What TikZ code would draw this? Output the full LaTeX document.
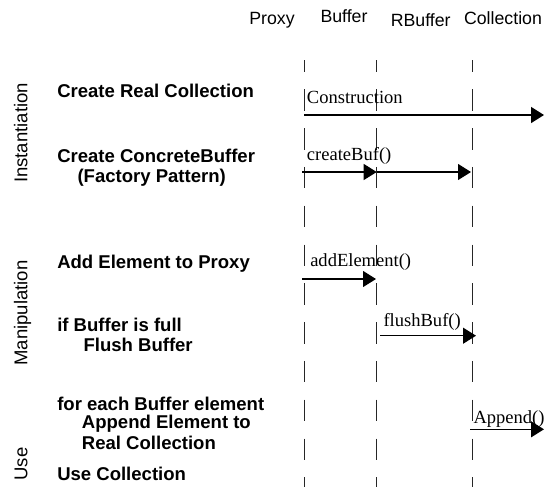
\documentclass[tikz,border=0pt]{standalone}
\usepackage{fontspec}
\setmainfont{Liberation Serif}
\setsansfont{Liberation Sans}
\usetikzlibrary{arrows.meta}
\tikzset{
  px/.style={x=0.75pt,y=-0.75pt},
  header/.style={font=\sffamily\fontsize{13.3}{16}\selectfont, anchor=base, inner sep=0pt},
  phase/.style={font=\sffamily\fontsize{13.9}{16}\selectfont, anchor=base, rotate=90, inner sep=0pt},
  steptext/.style={font=\sffamily\bfseries\fontsize{13.9}{16}\selectfont, anchor=base west, inner sep=0pt},
  msgtext/.style={font=\rmfamily\fontsize{13.9}{16}\selectfont, anchor=base west, inner sep=0pt},
  lifeline/.style={line width=0.8pt, draw=black!85, dash pattern=on 16.1pt off 13pt, dash phase=7.1pt},
  msg/.style={line width=0.9pt, -{Triangle[length=9.75pt,width=12pt]}},
  bigmsg/.style={line width=1.2pt, -{Triangle[length=9.75pt,width=12pt]}}
}
\begin{document}
\begin{tikzpicture}[px]
\useasboundingbox (0,0) rectangle (544,487);

% object headers
\node[header] (hProxy) at (272,24) {Proxy};
\node[header] (hBuffer) at (344,22.7) {Buffer};
\node[header] (hRBuffer) at (420.7,26.7) {RBuffer};
\node[header] (hColl) at (503,24) {Collection};

% lifelines
\coordinate (pTop) at (304.7,60);  \coordinate (pBot) at (304.7,487);
\coordinate (bTop) at (376.7,60);  \coordinate (bBot) at (376.7,487);
\coordinate (cTop) at (472.5,60);  \coordinate (cBot) at (472.5,487);
\draw[lifeline] (pTop) -- (pBot);
\draw[lifeline] (bTop) -- (bBot);
\draw[lifeline] (cTop) -- (cBot);

% phases
\node[phase] (phInst) at (27.5,133) {Instantiation};
\node[phase] (phMan) at (27.5,313) {Manipulation};
\node[phase] (phUse) at (27.5,464) {Use};

% steps
\node[steptext] (s1) at (57,97) {Create Real Collection};
\node[steptext] (s2a) at (57,162.3) {Create ConcreteBuffer};
\node[steptext] (s2b) at (77.3,182.7) {(Factory Pattern)};
\node[steptext] (s3) at (57,268) {Add Element to Proxy};
\node[steptext] (s4a) at (57,331.7) {if Buffer is full};
\node[steptext] (s4b) at (83.3,351.7) {Flush Buffer};
\node[steptext] (s5a) at (57,410) {for each Buffer element};
\node[steptext] (s5b) at (81.7,428.7) {Append Element to};
\node[steptext] (s5c) at (81.7,449.5) {Real Collection};
\node[steptext] (s6) at (57,480) {Use Collection};

% messages
\node[msgtext] (mConstr) at (306.7,103) {Construction};
\coordinate (m1s) at (304,115);   \coordinate (m1e) at (544,115);
\draw[bigmsg] (m1s) -- (m1e);

\node[msgtext] (mCreate) at (306.7,160.7) {createBuf()};
\coordinate (m2s) at (302,172);   \coordinate (m2m) at (376.7,172);
\coordinate (m2e) at (471,172);
\draw[msg] (m2s) -- (m2m);
\draw[msg] (m2m) -- (m2e);

\node[msgtext] (mAdd) at (310,266) {addElement()};
\coordinate (m3s) at (302,279);   \coordinate (m3e) at (376,279);
\draw[msg] (m3s) -- (m3e);

\node[msgtext] (mFlush) at (383.3,326.7) {flushBuf()};
\coordinate (m4s) at (380,335.7); \coordinate (m4e) at (476,335.7);
\draw[msg] (m4s) -- (m4e);

\node[msgtext] (mAppend) at (473.3,423.3) {Append()};
\coordinate (m5s) at (470,429.3); \coordinate (m5e) at (544,429.3);
\draw[msg] (m5s) -- (m5e);
\end{tikzpicture}
\end{document}
